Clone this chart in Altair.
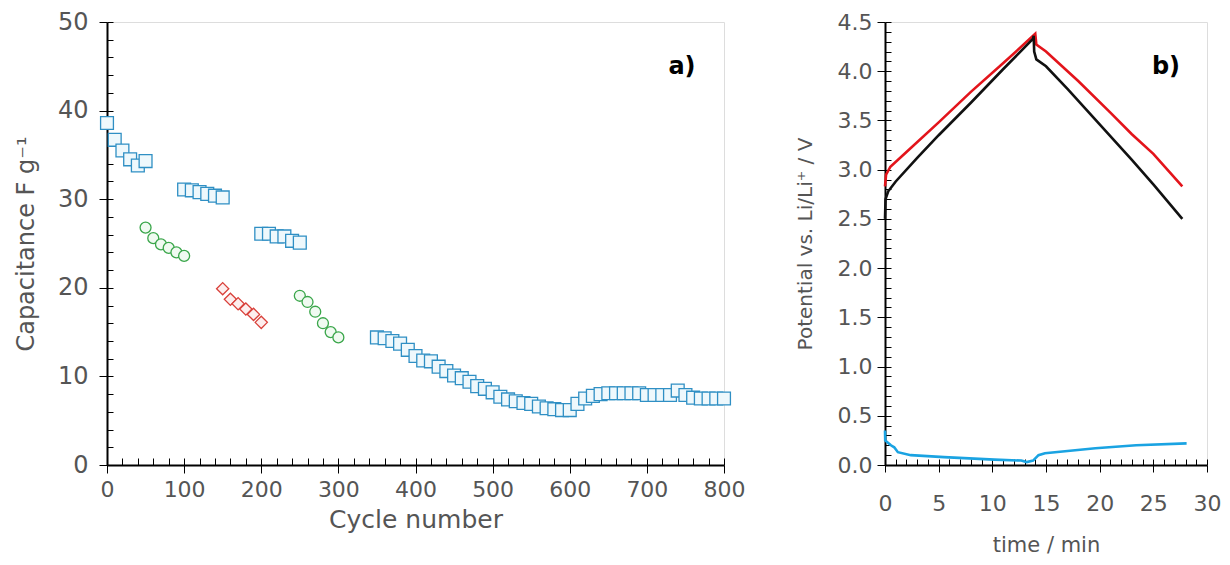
import altair as alt
import pandas as pd

# ---------------- data: panel a) ----------------
sq_cycle = [0, 10, 20, 30, 40, 50,
            100, 110, 120, 130, 140, 150,
            200, 210, 220, 230, 240, 250,
            350, 360, 370, 380, 390, 400, 410, 420, 430, 440, 450, 460, 470, 480,
            490, 500, 510, 520, 530, 540, 550, 560, 570, 580, 590, 600, 610, 620,
            630, 640, 650, 660, 670, 680, 690, 700, 710, 720, 730, 740, 750, 760,
            770, 780, 790, 800]
sq_cap = [38.6, 36.7, 35.5, 34.5, 33.8, 34.3,
          31.1, 31.0, 30.8, 30.6, 30.4, 30.2,
          26.1, 26.1, 25.8, 25.8, 25.3, 25.1,
          14.4, 14.3, 14.0, 13.7, 13.0, 12.3, 11.8, 11.7, 11.1, 10.6, 10.1, 9.8, 9.4, 8.9,
          8.6, 8.2, 7.7, 7.4, 7.2, 7.0, 6.9, 6.6, 6.4, 6.3, 6.2, 6.2, 6.9, 7.5,
          7.8, 8.0, 8.1, 8.1, 8.1, 8.1, 8.1, 7.9, 7.9, 7.9, 7.9, 8.4, 7.9, 7.6,
          7.5, 7.5, 7.5, 7.5]
ci_cycle = [50, 60, 70, 80, 90, 100, 250, 260, 270, 280, 290, 300]
ci_cap = [26.8, 25.6, 24.9, 24.5, 24.0, 23.6, 19.1, 18.4, 17.3, 16.0, 15.0, 14.4]
di_cycle = [150, 160, 170, 180, 190, 200]
di_cap = [19.9, 18.7, 18.2, 17.6, 17.0, 16.1]

# ---------------- data: panel b) ----------------
red_t = [0.0, 0.1, 0.5, 2.0, 5.0, 8.0, 11.0, 13.9, 14.0, 14.1, 15.0, 18.0, 21.0, 23.0, 25.0, 27.7]
red_v = [2.83, 2.95, 3.03, 3.18, 3.48, 3.79, 4.08, 4.37, 4.38, 4.27, 4.20, 3.90, 3.58, 3.36, 3.16, 2.83]
black_t = [0.0, 0.05, 0.3, 1.0, 3.0, 5.0, 8.0, 11.0, 13.8, 13.85, 13.9, 14.1, 15.0, 17.0, 20.0, 23.0, 25.0, 27.7]
black_v = [2.50, 2.70, 2.78, 2.88, 3.12, 3.35, 3.68, 4.02, 4.33, 4.36, 4.20, 4.12, 4.05, 3.82, 3.46, 3.10, 2.85, 2.50]
blue_t = [0.0, 0.02, 0.55, 0.86, 1.2, 2.4, 5.5, 10.2, 12.7, 13.2, 13.8, 14.3, 14.9, 19.6, 23.4, 28.1]
blue_v = [0.35, 0.25, 0.20, 0.18, 0.13, 0.10, 0.08, 0.055, 0.045, 0.03, 0.045, 0.10, 0.12, 0.17, 0.20, 0.22]

panel_labels = ["a)", "b)"]
x_title_a = "Cycle number"
y_title_a = "Capacitance F g\u207b\u00b9"
x_title_b = "time / min"
y_title_b = "Potential vs. Li/Li\u207a / V"

FONT = "DejaVu Sans"
TXT = "#555555"

df_sq = pd.DataFrame({"cycle": sq_cycle, "cap": sq_cap})
df_ci = pd.DataFrame({"cycle": ci_cycle, "cap": ci_cap})
df_di = pd.DataFrame({"cycle": di_cycle, "cap": di_cap})

rows = []
for name, ts, vs in [("red", red_t, red_v), ("black", black_t, black_v), ("blue", blue_t, blue_v)]:
    for i, (t, v) in enumerate(zip(ts, vs)):
        rows.append({"series": name, "t": t, "v": v, "i": i})
df_b = pd.DataFrame(rows)

common = dict(domainColor="black", domainWidth=2, tickColor="black", tickWidth=1,
              labelFont=FONT, labelColor=TXT, titleFont=FONT, titleColor=TXT,
              titleFontWeight="normal", grid=False, labelFlush=False)

# ---------------- panel a ----------------
xa = alt.Scale(domain=[0, 800], nice=False, zero=False)
ya = alt.Scale(domain=[0, 50], nice=False)

xa_main = alt.Axis(orient="bottom", values=list(range(0, 801, 100)), tickSize=8, labelPadding=6,
                   labelFontSize=22, title=x_title_a, titleFontSize=25, titlePadding=7, **common)
ya_main = alt.Axis(orient="left", values=list(range(0, 51, 10)), tickSize=8, labelPadding=11,
                   labelFontSize=24, title=y_title_a, titleFontSize=24, titlePadding=19, **common)
xa_in = alt.Axis(orient="bottom", values=list(range(0, 801, 20)), offset=-7, tickSize=7,
                 labels=False, domain=False, title=None, tickColor="black", grid=False)
ya_in = alt.Axis(orient="left", values=list(range(0, 51, 2)), offset=-6, tickSize=6,
                 labels=False, domain=False, title=None, tickColor="black", grid=False)

ticks_a = alt.Chart(df_sq).mark_point(opacity=0).encode(
    x=alt.X("cycle:Q", scale=xa, axis=xa_in),
    y=alt.Y("cap:Q", scale=ya, axis=ya_in))
sq = alt.Chart(df_sq).mark_square(size=165, fill="#eef8fc", stroke="#2f8fc4",
                                  strokeWidth=1.3, opacity=1).encode(
    x=alt.X("cycle:Q", scale=xa, axis=xa_main),
    y=alt.Y("cap:Q", scale=ya, axis=ya_main))
ci = alt.Chart(df_ci).mark_circle(size=120, fill="#f0faf1", stroke="#3aa64a",
                                  strokeWidth=1.3, opacity=1).encode(
    x=alt.X("cycle:Q", scale=xa, axis=None), y=alt.Y("cap:Q", scale=ya, axis=None))
di = alt.Chart(df_di).mark_point(shape="diamond", size=150, filled=True, fill="#fdeeee",
                                 stroke="#d9403a", strokeWidth=1.3, opacity=1).encode(
    x=alt.X("cycle:Q", scale=xa, axis=None), y=alt.Y("cap:Q", scale=ya, axis=None))
lab_a = alt.Chart(pd.DataFrame({"t": [panel_labels[0]]})).mark_text(
    font=FONT, fontSize=24, fontWeight="bold", color="black").encode(
    x=alt.value(575), y=alt.value(45), text="t:N")

panel_a = alt.layer(sq, ticks_a, ci, di, lab_a).resolve_axis(
    x="independent", y="independent").properties(width=617, height=443)

# ---------------- panel b ----------------
xb = alt.Scale(domain=[0, 30], nice=False)
yb = alt.Scale(domain=[0, 4.5], nice=False)

xb_main = alt.Axis(orient="bottom", values=list(range(0, 31, 5)), tickSize=7, labelPadding=21,
                   labelFontSize=22, title=x_title_b, titleFontSize=21, titlePadding=20, **common)
yb_main = alt.Axis(orient="left", values=[i * 0.5 for i in range(10)], format=".1f", tickSize=8,
                   labelPadding=5, labelFontSize=22, title=y_title_b, titleFontSize=20,
                   titlePadding=22, **common)
xb_in = alt.Axis(orient="bottom", values=list(range(0, 31, 1)), offset=-6, tickSize=6,
                 labels=False, domain=False, title=None, tickColor="black", grid=False)
yb_in = alt.Axis(orient="left", values=[round(i * 0.1, 1) for i in range(46)], offset=-6, tickSize=6,
                 labels=False, domain=False, title=None, tickColor="black", grid=False)

lines = alt.Chart(df_b).mark_line(strokeWidth=2.6).encode(
    x=alt.X("t:Q", scale=xb, axis=xb_main),
    y=alt.Y("v:Q", scale=yb, axis=yb_main),
    color=alt.Color("series:N", scale=alt.Scale(domain=["red", "black", "blue"],
                                                range=["#e3141b", "#111111", "#1aa3e2"]),
                    legend=None),
    detail="series:N",
    order="i:Q")
ticks_b = alt.Chart(df_b).mark_point(opacity=0).encode(
    x=alt.X("t:Q", scale=xb, axis=xb_in),
    y=alt.Y("v:Q", scale=yb, axis=yb_in))
lab_b = alt.Chart(pd.DataFrame({"t": [panel_labels[1]]})).mark_text(
    font=FONT, fontSize=24, fontWeight="bold", color="black").encode(
    x=alt.value(281), y=alt.value(45), text="t:N")

panel_b = alt.layer(lines, ticks_b, lab_b).resolve_axis(
    x="independent", y="independent").properties(width=322, height=443)

chart = alt.hconcat(panel_a, panel_b, spacing=48).properties(
    padding={"left": 5, "top": 1, "right": 0, "bottom": 0}).configure_view(
    stroke="#666666", strokeWidth=1).configure(background="white")

chart.save("out.html", embed_options={"renderer": "svg", "actions": False})
